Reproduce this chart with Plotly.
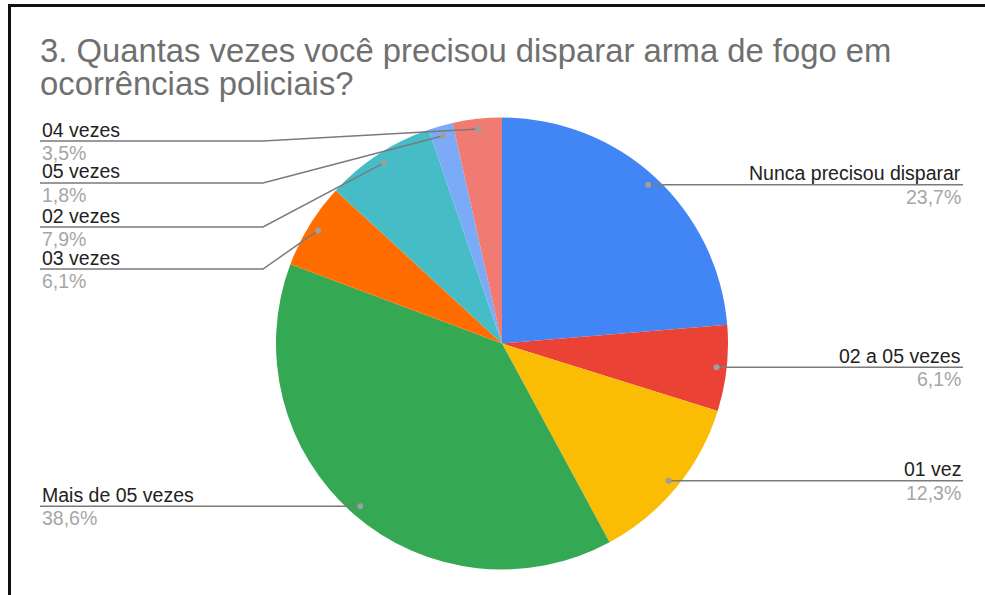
import math
import plotly.graph_objects as go

W, H = 985, 595

# ---- data ----
labels = ["Nunca precisou disparar", "02 a 05 vezes", "01 vez", "Mais de 05 vezes",
          "03 vezes", "02 vezes", "05 vezes", "04 vezes"]
counts = [27, 7, 14, 44, 7, 9, 2, 4]
pct_labels = ["23,7%", "6,1%", "12,3%", "38,6%", "6,1%", "7,9%", "1,8%", "3,5%"]
colors = ["#4285F4", "#EA4335", "#FBBC04", "#34A853", "#FF6D01", "#46BDC6", "#7BAAF7", "#F07B72"]
title_lines = ["3. Quantas vezes você precisou disparar arma de fogo em", "ocorrências policiais?"]

FONT = "Liberation Sans, Arial, sans-serif"

# ---- layout geometry (pixels) ----
CX, CY, R = 502, 343.5, 226
DOT_R = 0.955


def px(x):
    return x / W


def py(y):
    return 1 - y / H


fig = go.Figure()
fig.add_trace(go.Pie(
    labels=labels, values=counts, sort=False, direction="clockwise", rotation=0,
    marker=dict(colors=colors, line=dict(width=0)),
    textinfo="none", hoverinfo="label+percent", showlegend=False,
    domain=dict(x=[px(CX - R), px(CX + R)], y=[py(CY + R), py(CY - R)]),
))

side = ["right", "right", "right", "left", "left", "left", "left", "left"]
left_line_y = {"04 vezes": 141, "05 vezes": 183, "02 vezes": 227, "03 vezes": 269}

shapes = []
annotations = []
total = sum(counts)
cum = 0
for lab, c, pl, sd in zip(labels, counts, pct_labels, side):
    mid = (cum + c / 2) / total * 2 * math.pi
    cum += c
    dx = CX + DOT_R * R * math.sin(mid)
    dy = CY - DOT_R * R * math.cos(mid)
    if sd == "right":
        ly = dy
        path = f"M {px(dx)},{py(ly)} L {px(963)},{py(ly)}"
        tx, xa = 963, "right"
    else:
        if lab in left_line_y:
            ly = left_line_y[lab]
            path = f"M {px(40)},{py(ly)} L {px(263)},{py(ly)} L {px(dx)},{py(dy)}"
        else:
            ly = dy
            path = f"M {px(40)},{py(ly)} L {px(dx)},{py(ly)}"
        tx, xa = 40, "left"
    shapes.append(dict(type="path", xref="paper", yref="paper", path=path,
                       line=dict(color="#7a7a7a", width=1.5)))
    shapes.append(dict(type="circle", xref="paper", yref="paper",
                       x0=px(dx - 3), x1=px(dx + 3), y0=py(dy + 3), y1=py(dy - 3),
                       fillcolor="#9e9e9e", line=dict(width=0)))
    annotations.append(dict(text=lab, x=px(tx), y=py(ly - 11.5), xref="paper", yref="paper",
                            xanchor=xa, yanchor="middle", showarrow=False,
                            font=dict(family=FONT, size=19.5, color="#222222")))
    annotations.append(dict(text=pl, x=px(tx), y=py(ly + 12), xref="paper", yref="paper",
                            xanchor=xa, yanchor="middle", showarrow=False,
                            font=dict(family=FONT, size=19.5, color="#a6a6a6")))

# title (two lines)
for i, t in enumerate(title_lines):
    annotations.append(dict(text=t, x=px(38), y=py(50.6 + 33.3 * i), xref="paper", yref="paper",
                            xanchor="left", yanchor="middle", align="left", showarrow=False,
                            font=dict(family=FONT, size=32.8, color="#707070")))

# frame edges (top and left black borders of the screenshot)
shapes.append(dict(type="line", xref="paper", yref="paper", x0=px(8), x1=1, y0=py(5.5), y1=py(5.5),
                   line=dict(color="#111111", width=3)))
shapes.append(dict(type="line", xref="paper", yref="paper", x0=px(9.5), x1=px(9.5), y0=py(4), y1=0,
                   line=dict(color="#111111", width=3)))

fig.update_layout(width=W, height=H, autosize=False,
                  margin=dict(l=0, r=0, t=0, b=0),
                  paper_bgcolor="white", plot_bgcolor="white",
                  shapes=shapes, annotations=annotations)

fig.write_html("out.html")
